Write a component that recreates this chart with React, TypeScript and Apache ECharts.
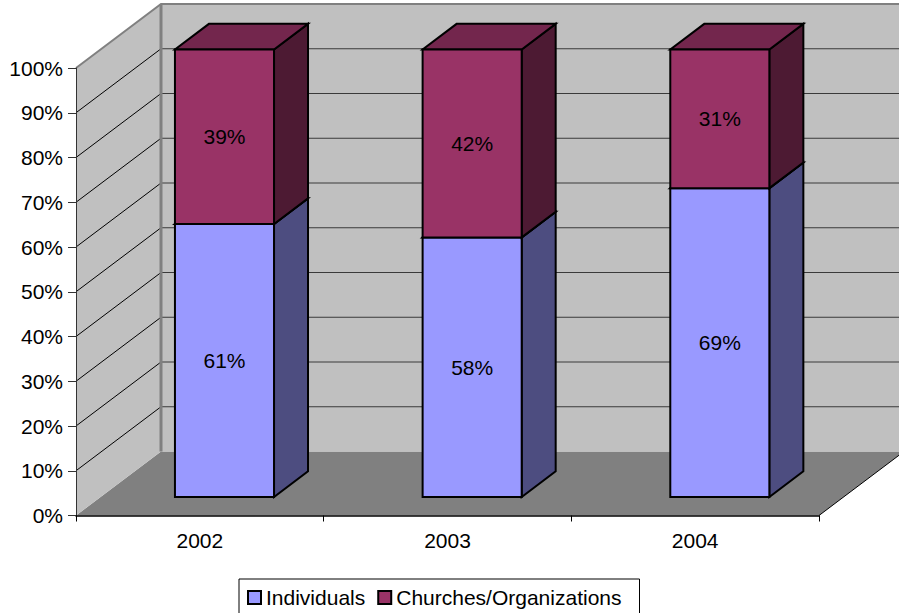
import React, { useEffect, useRef } from 'react';
import * as echarts from 'echarts';

const categories = ['2002', '2003', '2004'];
const individuals = [61, 58, 69];
const churches = [39, 42, 31];
const innerGridValues = [10, 20, 30, 40, 50, 60, 70, 80, 90];
const yMin = 0;
const yMax = 100;
const yInterval = 10;

const DEPTH_X = 85;
const DEPTH_Y = 64;
const BAR_FRONT = 0.29;
const BAR_DEPTH = 0.4;
const BAR_WIDTH = 0.4;
const FONT = '"Liberation Sans", Arial, sans-serif';
const FS = 21;

export default function App() {
  const ref = useRef<HTMLDivElement>(null);

  useEffect(() => {
    const chart = echarts.init(ref.current as HTMLDivElement, null, { renderer: 'svg' });

    const wallsRender = (params: any, api: any) => {
      const cs = params.coordSys;
      const x0 = cs.x;
      const x1 = cs.x + cs.width;
      const yb = api.coord([0, yMin])[1];
      const yt = api.coord([0, yMax])[1];
      const dx = DEPTH_X;
      const dy = DEPTH_Y;
      const children: any[] = [];
      children.push({
        type: 'polygon',
        shape: { points: [[x0, yb], [x0 + dx, yb - dy], [x1 + dx, yb - dy], [x1, yb]] },
        style: { fill: '#808080' },
      });
      children.push({
        type: 'polygon',
        shape: { points: [[x0, yb], [x0, yt], [x0 + dx, yt - dy], [x0 + dx, yb - dy]] },
        style: { fill: '#C0C0C0' },
      });
      children.push({
        type: 'rect',
        shape: { x: x0 + dx, y: yt - dy, width: x1 - x0 + 10, height: yb - yt },
        style: { fill: '#C0C0C0' },
      });
      innerGridValues.forEach((v) => {
        const y = api.coord([0, v])[1];
        children.push({
          type: 'line',
          shape: { x1: x0, y1: y, x2: x0 + dx, y2: y - dy },
          style: { stroke: '#000', lineWidth: 1 },
        });
        children.push({
          type: 'line',
          shape: { x1: x0 + dx, y1: y - dy, x2: x1 + dx + 10, y2: y - dy },
          style: { stroke: '#3a3a3a', lineWidth: 1 },
        });
      });
      children.push({
        type: 'polyline',
        shape: { points: [[x0, yt], [x0 + dx, yt - dy], [x1 + dx + 10, yt - dy]] },
        style: { stroke: '#808080', lineWidth: 2, fill: null },
      });
      children.push({
        type: 'line',
        shape: { x1: x0 + dx, y1: yt - dy, x2: x0 + dx, y2: yb - dy },
        style: { stroke: '#808080', lineWidth: 3 },
      });
      children.push({
        type: 'line',
        shape: { x1: x1, y1: yb, x2: x1 + dx, y2: yb - dy },
        style: { stroke: '#000', lineWidth: 1 },
      });
      return { type: 'group', children };
    };

    const makeBarRender = (front: string, side: string, top: string) => (params: any, api: any) => {
      const idx = api.value(0);
      const base = api.value(1);
      const end = api.value(2);
      const val = api.value(3);
      const band = api.size([1, 0])[0];
      const w = band * BAR_WIDTH;
      const c = api.coord([idx, base]);
      const yEnd = api.coord([idx, end])[1];
      const fx = DEPTH_X * BAR_FRONT;
      const fy = DEPTH_Y * BAR_FRONT;
      const bx = DEPTH_X * BAR_DEPTH;
      const by = DEPTH_Y * BAR_DEPTH;
      const l = c[0] - w / 2 + fx;
      const r = l + w;
      const b = c[1] - fy;
      const t = yEnd - fy;
      const stroke = { stroke: '#000', lineWidth: 2, lineJoin: 'miter' };
      return {
        type: 'group',
        children: [
          {
            type: 'polygon',
            shape: { points: [[r, b], [r, t], [r + bx, t - by], [r + bx, b - by]] },
            style: { fill: side, ...stroke },
          },
          {
            type: 'polygon',
            shape: { points: [[l, t], [r, t], [r + bx, t - by], [l + bx, t - by]] },
            style: { fill: top, ...stroke },
          },
          {
            type: 'rect',
            shape: { x: l, y: t, width: w, height: b - t },
            style: { fill: front, ...stroke },
          },
          {
            type: 'text',
            style: {
              text: `${val}%`,
              x: (l + r) / 2,
              y: (t + b) / 2,
              align: 'center',
              verticalAlign: 'middle',
              fill: '#000',
              fontSize: FS,
              fontFamily: FONT,
            },
          },
        ],
      };
    };

    const indData = categories.map((_, i) => [i, 0, individuals[i], individuals[i]]);
    const chData = categories.map((_, i) => [i, individuals[i], individuals[i] + churches[i], churches[i]]);

    chart.setOption({
      animation: false,
      backgroundColor: '#fff',
      grid: { left: 76, right: 80, top: 68, bottom: 97.5 },
      xAxis: {
        type: 'category',
        data: categories,
        z: 10,
        axisLine: { show: true, lineStyle: { color: '#000', width: 1.5 } },
        axisTick: { show: true, length: 6, lineStyle: { color: '#000' } },
        axisLabel: { margin: 14, fontSize: FS, fontFamily: FONT, color: '#000' },
        splitLine: { show: false },
      },
      yAxis: {
        type: 'value',
        min: yMin,
        max: yMax,
        interval: yInterval,
        z: 10,
        axisLine: { show: true, lineStyle: { color: '#333', width: 1 } },
        axisTick: { show: true, length: 8, lineStyle: { color: '#333' } },
        axisLabel: { formatter: '{value}%', margin: 13, fontSize: FS, fontFamily: FONT, color: '#000' },
        splitLine: { show: false },
      },
      legend: {
        data: [
          { name: 'Individuals', icon: 'rect' },
          { name: 'Churches/Organizations', icon: 'rect' },
        ],
        left: 239,
        top: 579,
        orient: 'horizontal',
        itemWidth: 13,
        itemHeight: 13,
        itemGap: 12,
        padding: [8, 18, 10, 8],
        borderColor: '#000',
        borderWidth: 1,
        backgroundColor: '#fff',
        selectedMode: false,
        itemStyle: { borderColor: '#000', borderWidth: 2 },
        textStyle: { fontSize: FS, fontFamily: FONT, color: '#000' },
      },
      series: [
        {
          type: 'custom',
          name: 'walls',
          silent: true,
          z: 1,
          clip: false,
          renderItem: wallsRender,
          data: [[0, 0]],
        },
        {
          type: 'custom',
          name: 'Individuals',
          z: 2,
          clip: false,
          itemStyle: { color: '#9999FF' },
          renderItem: makeBarRender('#9999FF', '#4D4D80', '#7373BF'),
          encode: { x: 0, y: [1, 2] },
          data: indData,
        },
        {
          type: 'custom',
          name: 'Churches/Organizations',
          z: 3,
          clip: false,
          itemStyle: { color: '#993366' },
          renderItem: makeBarRender('#993366', '#4D1A33', '#73264D'),
          encode: { x: 0, y: [1, 2] },
          data: chData,
        },
      ],
    });

    return () => {
      chart.dispose();
    };
  }, []);

  return (
    <div
      ref={ref}
      style={{ position: 'absolute', left: 0, top: 0, width: 899, height: 613, background: '#fff' }}
    />
  );
}
